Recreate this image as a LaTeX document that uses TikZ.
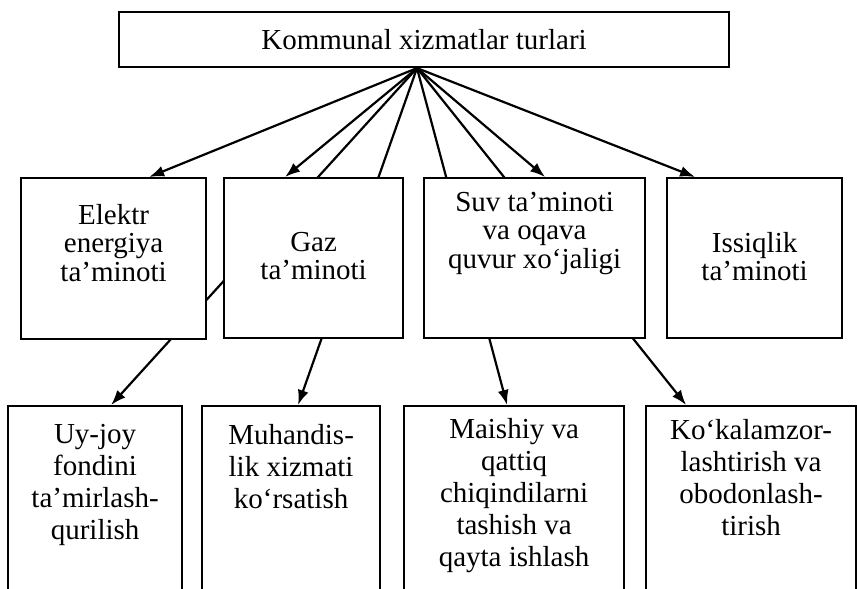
\documentclass[tikz,border=0pt]{standalone}
\usepackage{fontspec}
\setmainfont{Liberation Serif}
\usepackage{tikz}
\usetikzlibrary{arrows.meta}
\tikzstyle{Root}=[minimum width=610pt, minimum height=55pt, inner sep=0pt, fill=white, line width=2.2pt, draw=black, shape=rectangle, text=black, font=\fontsize{29pt}{29pt}\selectfont]
\tikzstyle{Service}=[anchor=north west, inner sep=0pt, fill=white, line width=2.2pt, draw=black, shape=rectangle, text=black, font=\fontsize{29pt}{28.5pt}\selectfont]
\tikzstyle{Branch}=[style=Service, font=\fontsize{29pt}{32pt}\selectfont]
\tikzstyle{arrow}=[line width=2.2pt, -{Latex[length=15pt,width=11pt]}]
\newcommand{\boxtext}[4]{\parbox[c][#2][t]{#1}{\centering\vspace*{#3}#4}}
\pgfdeclarelayer{edgelayer}
\pgfdeclarelayer{nodelayer}
\pgfsetlayers{edgelayer,main,nodelayer}
\begin{document}
\begin{tikzpicture}[x=1pt, y=-1pt]
	\useasboundingbox (0,0) rectangle (857,589);
	\begin{pgfonlayer}{nodelayer}
		\node [style=Root] (kinds) at (424, 39.5) {Kommunal xizmatlar turlari};
		\node [style=Service] (power) at (20, 177) {\boxtext{185pt}{161pt}{26pt}{Elektr\\energiya\\ta’minoti}};
		\node [style=Service] (gas) at (223, 177) {\boxtext{179pt}{160pt}{54pt}{Gaz\\ta’minoti}};
		\node [style=Service] (water) at (423, 177) {\boxtext{221pt}{160pt}{14pt}{Suv ta’minoti\\va oqava\\quvur xo‘jaligi}};
		\node [style=Service] (heat) at (666, 177) {\boxtext{175pt}{160pt}{54pt}{Issiqlik\\ta’minoti}};
		\node [style=Branch] (housing) at (7, 405) {\boxtext{174pt}{200pt}{18pt}{Uy-joy\\fondini\\ta’mirlash-\\qurilish}};
		\node [style=Branch] (works) at (201, 405) {\boxtext{178pt}{200pt}{18pt}{Muhandis-\\lik xizmati\\ko‘rsatish}};
		\node [style=Branch] (waste) at (403, 405) {\boxtext{220pt}{200pt}{12pt}{Maishiy va\\qattiq\\chiqindilarni\\tashish va\\qayta ishlash}};
		\node [style=Branch] (green) at (645, 405) {\boxtext{210pt}{200pt}{13pt}{Ko‘kalamzor-\\lashtirish va\\obodonlash-\\tirish}};
	\end{pgfonlayer}
	\begin{pgfonlayer}{edgelayer}
		\coordinate (hub) at ([xshift=-7pt]kinds.south);
		\draw [style=arrow] (hub) to ([xshift=35.5pt]power.north);
		\draw [style=arrow] (hub) to ([xshift=-28.5pt]gas.north);
		\draw [style=arrow] (hub) to ([xshift=10.5pt]water.north);
		\draw [style=arrow] (hub) to ([xshift=-59.5pt]heat.north);
		\draw [style=arrow] (hub) to ([xshift=16pt]housing.north);
		\draw [style=arrow] (hub) to ([xshift=7pt]works.north);
		\draw [style=arrow] (hub) to ([xshift=-7pt]waste.north);
		\draw [style=arrow] (hub) to ([xshift=-65pt]green.north);
	\end{pgfonlayer}
\end{tikzpicture}
\end{document}
